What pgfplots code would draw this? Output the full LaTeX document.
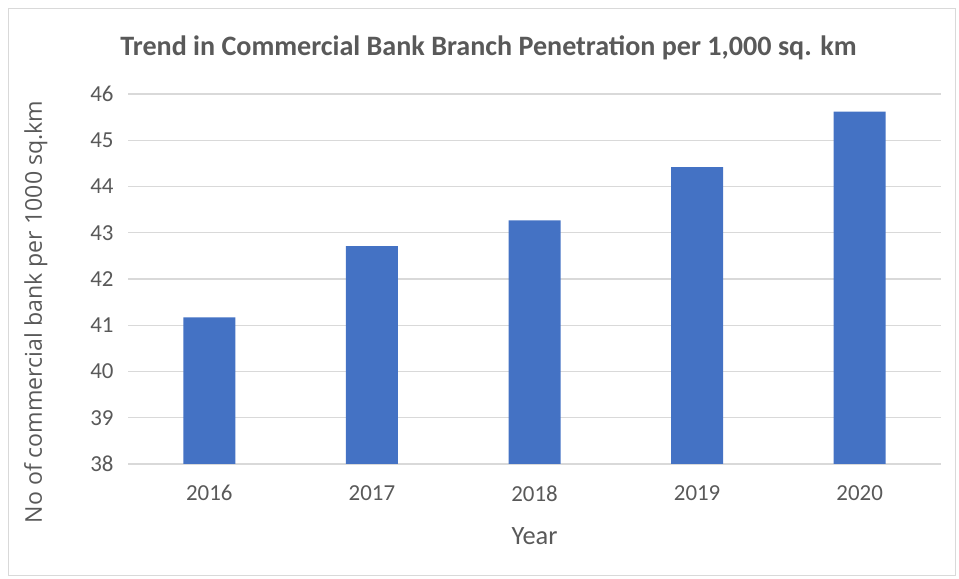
\documentclass[border=0pt]{standalone}
\usepackage{fontspec}
\setmainfont{Carlito}
\newfontfamily\opensans{Open Sans}
\usepackage{pgfplots}
\pgfplotsset{compat=1.18}
\definecolor{barblue}{HTML}{4472C4}
\definecolor{gridgray}{HTML}{D9D9D9}
\definecolor{txtgray}{HTML}{595959}
\begin{document}
\begin{tikzpicture}[x=1bp,y=1bp]
\path[use as bounding box] (0,0) rectangle (959,579);
\draw[gridgray, line width=0.8bp] (8,4) rectangle (955,571);
\begin{axis}[
  at={(128bp,115bp)}, anchor=south west,
  scale only axis, width=813bp, height=370bp,
  ymin=38, ymax=46, ytick={38,39,...,46},
  xmin=-0.5, xmax=4.5, xtick=data,
  xticklabels={2016,2017,2018,2019,2020},
  ybar, bar width=52bp,
  axis line style={draw=none},
  ymajorgrids, grid style={gridgray, line width=1.3bp},
  major tick length=0pt,
  tick label style={font=\fontsize{23}{26}\selectfont, text=txtgray},
  /pgf/number format/assume math mode=true,
  yticklabel style={xshift=-11bp},
  xticklabel style={yshift=-18bp},
  xlabel={Year},
  xlabel style={font=\fontsize{26.5}{30}\selectfont, text=txtgray, yshift=-19bp},
  ylabel={\opensans No of commercial bank per 1000 sq.km},
  ylabel style={font=\fontsize{23.2}{26}\selectfont, text=txtgray, yshift=36bp, xshift=-33bp},
  title={\textbf{Trend in Commercial Bank Branch Penetration per 1,000 sq. km}},
  title style={font=\fontsize{28.2}{32}\selectfont, text=txtgray, at={(0.5,1)}, yshift=25bp, anchor=south, xshift=-46bp},
  clip=false,
]
\addplot[fill=barblue, draw=none] coordinates {(0,41.17) (1,42.71) (2,43.27) (3,44.42) (4,45.62)};
\end{axis}
\end{tikzpicture}
\end{document}
